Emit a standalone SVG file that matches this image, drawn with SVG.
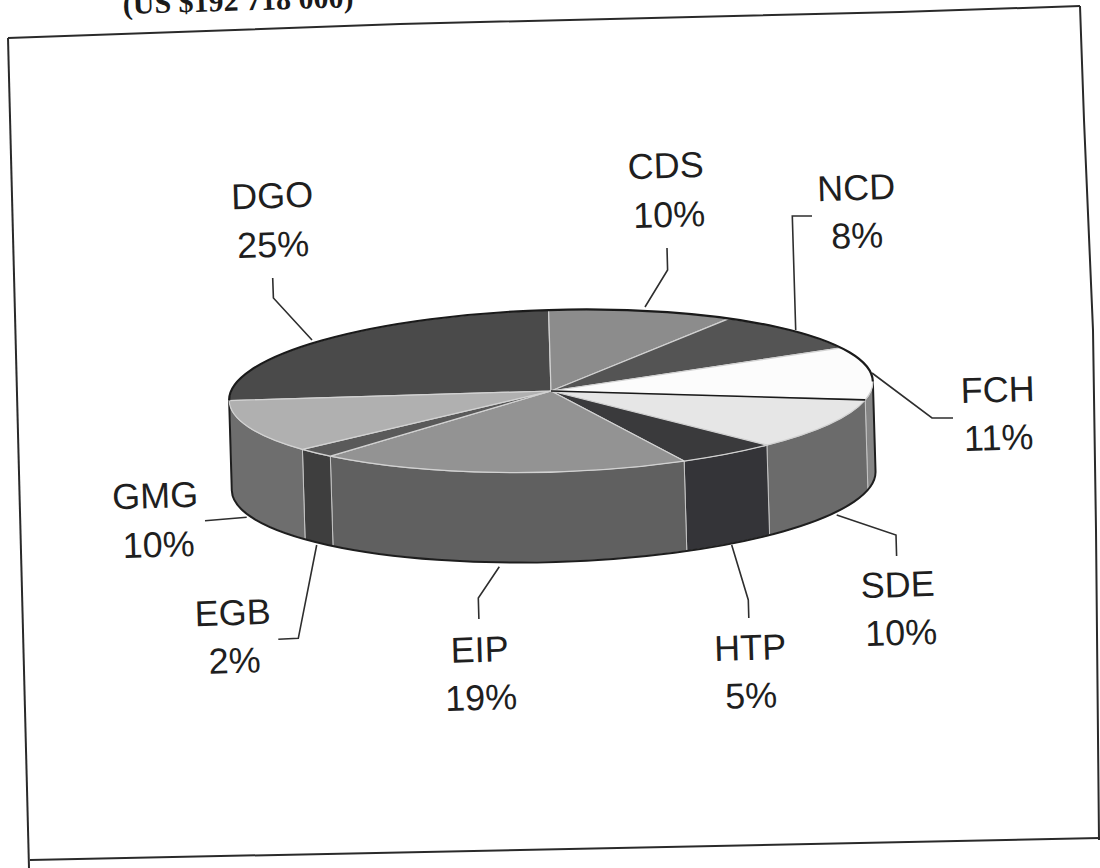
<svg xmlns="http://www.w3.org/2000/svg" width="1100" height="868" viewBox="0 0 1100 868">
<style>
.lbl{font-family:"Liberation Sans",Arial,sans-serif;font-size:36px;fill:#1f1f1f;text-anchor:middle}
.ttl{font-family:"Liberation Serif","Times New Roman",serif;font-size:30px;font-weight:bold;fill:#1a1a1a}
.frame{fill:none;stroke:#2a2a2a;stroke-width:2}
.lead{fill:none;stroke:#2e2e2e;stroke-width:1.6}
.top{stroke:#d2d2d2;stroke-width:1.2;stroke-linejoin:round}
.side{stroke:#c4c4c4;stroke-width:1}
</style>
<rect x="0" y="0" width="1100" height="868" fill="#ffffff"/>
<text class="ttl" x="123" y="14" transform="rotate(-1.7 123 14)">(US $192 718 000)</text>
<g id="frame">
<polyline class="frame" points="8,38 400,24 900,12 1080,6"/>
<polyline class="frame" points="1080,6 1084,120 1093,330 1096,530 1099,840"/>
<polyline class="frame" points="30,860 1100,838"/>
<polyline class="frame" points="8,38 29,868"/>
</g>
<g id="pie" transform="rotate(-1.7 551 391)">
<g id="sides">
<path id="side-FCH" class="side" fill="#858585" d="M873,391 A322,81 0 0 1 864.8,409.2 L864.8,499.2 A322,81 0 0 0 873,481 Z"/>
<path id="side-SDE" class="side" fill="#6b6b6b" d="M864.8,409.2 A322,81 0 0 1 765.2,451.5 L765.2,541.5 A322,81 0 0 0 864.8,499.2 Z"/>
<path id="side-HTP" class="side" fill="#343438" d="M765.2,451.5 A322,81 0 0 1 682,465 L682,555 A322,81 0 0 0 765.2,541.5 Z"/>
<path id="side-EIP" class="side" fill="#606060" d="M682,465 A322,81 0 0 1 328.5,449.6 L328.5,539.6 A322,81 0 0 0 682,555 Z"/>
<path id="side-EGB" class="side" fill="#3e3e3e" d="M328.5,449.6 A322,81 0 0 1 300.8,442 L300.8,532 A322,81 0 0 0 328.5,539.6 Z"/>
<path id="side-GMG" class="side" fill="#6e6e6e" d="M300.8,442 A322,81 0 0 1 229,391 L229,481 A322,81 0 0 0 300.8,532 Z"/>
<path fill="none" stroke="#1e1e1e" stroke-width="2" d="M229,391 L229,481 A322,81 0 0 0 873,481 L873,391"/>
</g>
<g id="tops">
<path id="top-DGO" class="top" fill="#4a4a4a" d="M551,391 L229,391 A322,81 0 0 1 551,310 Z"/>
<path id="top-CDS" class="top" fill="#8c8c8c" d="M551,391 L551,310 A322,81 0 0 1 731.1,323.9 Z"/>
<path id="top-NCD" class="top" fill="#545454" d="M551,391 L731.1,323.9 A322,81 0 0 1 842.3,356.5 Z"/>
<path id="top-FCH" class="top" fill="#fcfcfc" d="M551,391 L842.3,356.5 A322,81 0 0 1 864.8,409.2 Z"/>
<path id="top-SDE" class="top" fill="#e6e6e6" d="M551,391 L864.8,409.2 A322,81 0 0 1 765.2,451.5 Z"/>
<path id="top-HTP" class="top" fill="#3a3a3c" d="M551,391 L765.2,451.5 A322,81 0 0 1 682,465 Z"/>
<path id="top-EIP" class="top" fill="#939393" d="M551,391 L682,465 A322,81 0 0 1 328.5,449.6 Z"/>
<path id="top-EGB" class="top" fill="#5a5a5a" d="M551,391 L328.5,449.6 A322,81 0 0 1 300.8,442 Z"/>
<path id="top-GMG" class="top" fill="#b0b0b0" d="M551,391 L300.8,442 A322,81 0 0 1 229,391 Z"/>
<path fill="none" stroke="#1a1a1a" stroke-width="1.6" d="M551,391 L864.8,409.2"/>
<path fill="none" stroke="#1a1a1a" stroke-width="2.2" d="M229,391 A322,81 0 0 1 873,391"/>
</g>
</g>
<g id="connectors">
<polyline class="lead" points="272.7,278 273.4,298 312,340"/>
<polyline class="lead" points="667,248 667.6,270 645,307"/>
<polyline class="lead" points="812,216 792.3,216 795.7,330"/>
<polyline class="lead" points="872,373 932,418 953,418"/>
<polyline class="lead" points="896.6,556 896,535 836.7,515"/>
<polyline class="lead" points="748.8,618 748.3,600 731.7,545"/>
<polyline class="lead" points="478.9,619 478.3,598 499.3,566.7"/>
<polyline class="lead" points="278.3,639.3 298.3,638.3 316.7,545"/>
<polyline class="lead" points="205,520.7 246.7,517.3"/>
</g>
<g id="label-DGO"><text class="lbl" x="272.5" y="208" transform="rotate(-1.7 272.5 208)">DGO</text><text class="lbl" x="273.5" y="257" transform="rotate(-1.7 273.5 257)">25%</text></g>
<g id="label-CDS"><text class="lbl" x="666" y="178" transform="rotate(-1.7 666 178)">CDS</text><text class="lbl" x="669.5" y="227" transform="rotate(-1.7 669.5 227)">10%</text></g>
<g id="label-NCD"><text class="lbl" x="856.5" y="200" transform="rotate(-1.7 856.5 200)">NCD</text><text class="lbl" x="857.5" y="248" transform="rotate(-1.7 857.5 248)">8%</text></g>
<g id="label-FCH"><text class="lbl" x="998" y="402" transform="rotate(-1.7 998 402)">FCH</text><text class="lbl" x="999" y="450" transform="rotate(-1.7 999 450)">11%</text></g>
<g id="label-SDE"><text class="lbl" x="898" y="597" transform="rotate(-1.7 898 597)">SDE</text><text class="lbl" x="901.5" y="645" transform="rotate(-1.7 901.5 645)">10%</text></g>
<g id="label-HTP"><text class="lbl" x="750.5" y="660" transform="rotate(-1.7 750.5 660)">HTP</text><text class="lbl" x="751.5" y="708" transform="rotate(-1.7 751.5 708)">5%</text></g>
<g id="label-EIP"><text class="lbl" x="480" y="662" transform="rotate(-1.7 480 662)">EIP</text><text class="lbl" x="481.5" y="710" transform="rotate(-1.7 481.5 710)">19%</text></g>
<g id="label-EGB"><text class="lbl" x="233" y="625" transform="rotate(-1.7 233 625)">EGB</text><text class="lbl" x="235" y="673" transform="rotate(-1.7 235 673)">2%</text></g>
<g id="label-GMG"><text class="lbl" x="155.5" y="508" transform="rotate(-1.7 155.5 508)">GMG</text><text class="lbl" x="159" y="557" transform="rotate(-1.7 159 557)">10%</text></g>
</svg>
